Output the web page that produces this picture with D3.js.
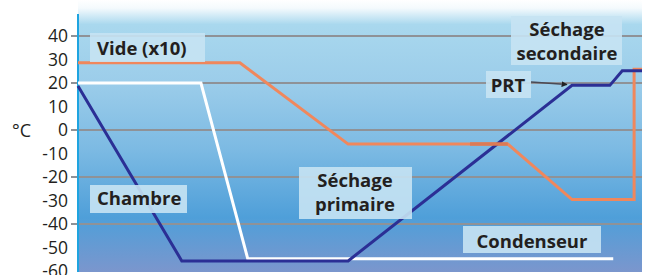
<!DOCTYPE html>
<html>
<head>
<meta charset="utf-8">
<script src="https://cdn.jsdelivr.net/npm/d3@7"></script>
<style>
  body { margin: 0; background: #fff; }
  svg { display: block; font-family: "Open Sans", sans-serif; }
</style>
</head>
<body>
<script>
// chart size
var svgWidth = 645;
var svgHeight = 275;

// data: time as % of the cycle, temperature in °C
var chambreTime = [0, 18.4, 47.9, 87.6, 94.3, 96.5, 100];
var chambreTemp = [18.7, -55.7, -55.7, 19, 19, 25.2, 25.2];

var condTime = [0, 21.8, 30.1, 94.9];
var condTemp = [20, 20, -54.8, -54.8];

var videTime = [0, 28.7, 47.9, 76.2, 87.6, 98.6, 98.6, 100];
var videTemp = [28.6, 28.6, -6, -6, -29.6, -29.6, 25.8, 25.8];

var yLabels = [40, 30, 20, 10, 0, -10, -20, -30, -40, -50, -60];
var gridValues = [40, 20, 0, -20, -40];

var svg = d3.select("body")
    .append("svg")
    .attr("width", svgWidth)
    .attr("height", svgHeight);

var xScale = d3.scaleLinear().domain([0, 100]).range([78, 642]);
var yScale = d3.scaleLinear().domain([-60, 40]).range([271, 36]);

// background gradient
var defs = svg.append("defs");
var grad = defs.append("linearGradient")
    .attr("id", "bg")
    .attr("x1", 0).attr("y1", 0).attr("x2", 0).attr("y2", 1);
[[0, "#ffffff"], [0.03, "#f4fafd"], [0.09, "#a9d8ee"], [0.3, "#9ccdea"],
 [0.55, "#7cbae3"], [0.8, "#4f9fd9"], [1, "#7b96cd"]].forEach(function(s){
    grad.append("stop").attr("offset", s[0]).attr("stop-color", s[1]);
});

svg.append("rect")
    .attr("x", xScale(0))
    .attr("y", 0)
    .attr("width", xScale(100) - xScale(0))
    .attr("height", 272)
    .attr("fill", "url(#bg)");

// grid lines and tick marks
svg.append("g")
    .selectAll("line")
    .data(gridValues)
    .enter()
    .append("line")
    .attr("x1", 71)
    .attr("x2", xScale(100))
    .attr("y1", d => yScale(d))
    .attr("y2", d => yScale(d))
    .attr("stroke", "#8f9297")
    .attr("stroke-width", 2);

// y axis labels
var yAxis = d3.axisLeft(yScale)
    .tickValues(yLabels)
    .tickSize(0)
    .tickPadding(10)
    .tickFormat(d => d < 0 ? "-" + Math.abs(d) : d);

var yg = svg.append("g")
    .attr("transform", `translate(${xScale(0)},0)`)
    .call(yAxis);
yg.select(".domain").remove();
yg.selectAll("text")
    .attr("font-size", 17.5)
    .attr("font-family", "Open Sans, sans-serif")
    .attr("fill", "#231f20");

// axis line
svg.append("line")
    .attr("x1", xScale(0)).attr("x2", xScale(0))
    .attr("y1", 14).attr("y2", 272)
    .attr("stroke", "#1ea4e0")
    .attr("stroke-width", 2);

svg.append("text")
    .attr("x", 12)
    .attr("y", 137)
    .attr("font-size", 18)
    .attr("fill", "#231f20")
    .text("°C");

// lines
var line = d3.line()
    .x(d => xScale(d[0]))
    .y(d => yScale(d[1]));

function drawSeries(times, temps, color) {
    svg.append("path")
        .datum(d3.zip(times, temps))
        .attr("d", line)
        .attr("fill", "none")
        .attr("stroke", color)
        .attr("stroke-width", 3)
        .attr("stroke-linejoin", "miter");
}

drawSeries(videTime, videTemp, "#f0875c");
drawSeries(condTime, condTemp, "#ffffff");
drawSeries(chambreTime, chambreTemp, "#2b2f95");

// small overlap mark on the vacuum line
svg.append("line")
    .attr("x1", xScale(69.5)).attr("x2", xScale(76.2))
    .attr("y1", yScale(-6)).attr("y2", yScale(-6))
    .attr("stroke", "#dc7a55")
    .attr("stroke-width", 3.5);

// labels with boxes
function boxLabel(x0, y0, x1, y1, lines, anchor) {
    svg.append("rect")
        .attr("x", x0).attr("y", y0)
        .attr("width", x1 - x0).attr("height", y1 - y0)
        .attr("fill", "#c6e3f3")
        .attr("fill-opacity", 0.9);
    var t = svg.append("text")
        .attr("font-size", 18.5)
        .attr("font-weight", 700)
        .attr("fill", "#231f20")
        .attr("text-anchor", anchor);
    lines.forEach(function(l){
        t.append("tspan")
            .attr("x", l[0])
            .attr("y", l[1])
            .text(l[2]);
    });
}

boxLabel(90, 33, 205, 62, [[97, 55, "Vide (x10)"]], "start");
boxLabel(90, 185, 187, 213, [[97, 205, "Chambre"]], "start");
boxLabel(299, 167, 412, 219, [[355, 187, "Séchage"], [355, 211, "primaire"]], "middle");
boxLabel(511, 16, 622, 65, [[567, 36, "Séchage"], [567, 60, "secondaire"]], "middle");
boxLabel(486, 71, 531, 98, [[508, 92, "PRT"]], "middle");
boxLabel(463, 226, 601, 253, [[532, 248, "Condenseur"]], "middle");

// PRT arrow
defs.append("marker")
    .attr("id", "arrow")
    .attr("viewBox", "0 0 10 10")
    .attr("refX", 9).attr("refY", 5)
    .attr("markerWidth", 6).attr("markerHeight", 6)
    .attr("orient", "auto")
    .attr("markerUnits", "userSpaceOnUse")
    .append("path")
    .attr("d", "M0,0 L10,5 L0,10 Z")
    .attr("fill", "#222");

svg.append("line")
    .attr("x1", 531).attr("y1", 82)
    .attr("x2", 567).attr("y2", 84.5)
    .attr("stroke", "#4a4a55")
    .attr("stroke-width", 1.5)
    .attr("marker-end", "url(#arrow)");
</script>
</body>
</html>
